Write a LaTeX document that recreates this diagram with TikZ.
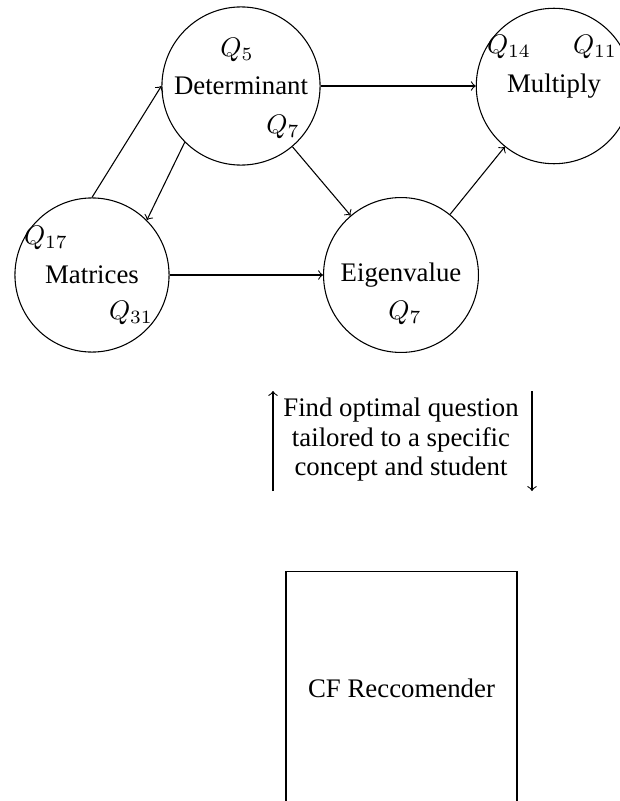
\documentclass[tikz,border=0pt]{standalone}
\usepackage{fontspec}
\setmainfont{Liberation Serif}
\begin{document}
\begin{tikzpicture}[x=0.3731pt,y=-0.3731pt,
  concept/.style={draw,circle,inner sep=0pt,font=\fontsize{10}{12}\selectfont},
  qlab/.style={inner sep=0pt,font=\fontsize{10}{12}\selectfont},
  link/.style={->,line width=0.4pt},
  every node/.style={font=\fontsize{10}{12}\selectfont}]
\useasboundingbox (0,0) rectangle (620,801);
\clip (0,0) rectangle (620,801);
% concept nodes
\node[concept,minimum size=59pt] (det) at (241,86) {Determinant};
\node[concept,minimum size=57.5pt] (mat) at (92,275) {Matrices};
\node[concept,minimum size=57.8pt] (eig) at (401,275) {Eigenvalue};
\node[concept,minimum size=58pt] (mul) at (554,86) {Multiply};
% question labels
\node[qlab] (q5) at (237,50) {$Q_5$};
\node[qlab] (q7a) at (283,127) {$Q_7$};
\node[qlab] (q17) at (46,238) {$Q_{17}$};
\node[qlab] (q31) at (131,313) {$Q_{31}$};
\node[qlab] (q7b) at (405,313) {$Q_7$};
\node[qlab] (q14) at (509,47) {$Q_{14}$};
\node[qlab] (q11) at (595,47) {$Q_{11}$};
% connectors
\draw[link] (mat.north) -- (det.west);
\draw[link] (det.south west) -- (mat.north east);
\draw[link] (det.east) -- (mul.west);
\draw[link] (det) -- (eig);
\draw[link] (mat.east) -- (eig.west);
\draw[link] (eig) -- (mul);
% query text
\node[align=center,inner sep=0pt,font=\fontsize{10}{11}\selectfont] (find) at (401,440)
  {Find optimal question\\tailored to a specific\\concept and student};
\coordinate (lb) at (273,491);
\coordinate (lt) at (273,391);
\coordinate (rt) at (532,391);
\coordinate (rb) at (532,491);
\draw[link] (lb) -- (lt);
\draw[link] (rt) -- (rb);
% recommender box
\node[draw,minimum width=86.2pt,minimum height=86.6pt,inner sep=0pt] (rec) at (401.5,688) {CF Reccomender};
\end{tikzpicture}
\end{document}
